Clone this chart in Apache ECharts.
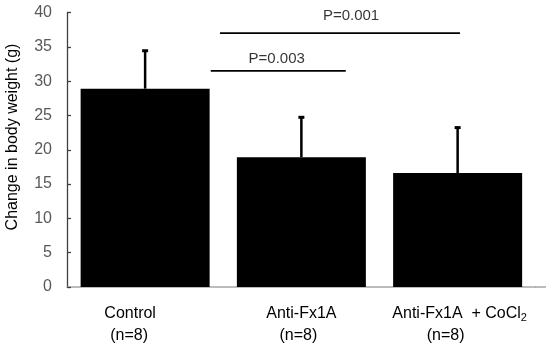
<!DOCTYPE html>
<html>
<head>
<meta charset="utf-8">
<script src="https://cdn.jsdelivr.net/npm/echarts@6/dist/echarts.min.js"></script>
<style>html,body{margin:0;padding:0;background:#fff}#c{width:550px;height:347px}</style>
</head>
<body>
<div id="c"></div>
<script>
var categories = ['Control', 'Anti-Fx1A', 'Anti-Fx1A + CoCl2'];
var groupSizes = ['(n=8)', '(n=8)', '(n=8)'];
var means = [28.9, 18.9, 16.6];
var errorTops = [34.5, 24.8, 23.3];
// significance brackets: [xStart, xEnd, y] in category units
var bracketA = [[0.42, 31.5], [1.284, 31.5]];
var bracketB = [[0.479, 37.0], [2.015, 37.0]];
var pLabels = [['P=0.003', 0.842, 33.3], ['P=0.001', 1.318, 39.5]];
var yTicks = [0, 40, 5];

var font = 'Liberation Sans, Arial, sans-serif';
var chart = echarts.init(document.getElementById('c'), null, {renderer: 'canvas'});

var lh = 22;
var option = {
  animation: false,
  backgroundColor: '#fff',
  grid: {left: 67, right: 14.25, top: 12.5, bottom: 60, containLabel: false, outerBoundsMode: 'none'},
  xAxis: [{
    type: 'category',
    data: categories,
    axisLine: {lineStyle: {color: '#a6a6a6', width: 1.5}},
    axisTick: {show: false},
    axisLabel: {
      interval: 0,
      margin: 16,
      color: '#000',
      fontFamily: font,
      fontSize: 16,
      lineHeight: lh,
      formatter: function (v, i) {
        if (i === 0) return '{c0a|Control}\n{c0b|' + groupSizes[0] + '}';
        if (i === 1) return '{c1a|Anti-Fx1A}\n{c1b|' + groupSizes[1] + '}';
        return '{c2a|Anti-Fx1A  + CoCl}{sub|2}\n{c2b|' + groupSizes[2] + '}';
      },
      rich: {
        c0a: {fontSize: 16, fontFamily: font, color: '#000', padding: [0, 30, 0, 0], lineHeight: lh},
        c0b: {fontSize: 16, fontFamily: font, color: '#000', padding: [0, 32, 0, 0], lineHeight: lh},
        c1a: {fontSize: 16, fontFamily: font, color: '#000', lineHeight: lh},
        c1b: {fontSize: 16, fontFamily: font, color: '#000', padding: [0, 6, 0, 0], lineHeight: lh},
        c2a: {fontSize: 16, fontFamily: font, color: '#000', padding: [0, 0, 0, 4], lineHeight: lh},
        sub: {fontSize: 11, fontFamily: font, color: '#000', padding: [8, 0, 0, 0], lineHeight: lh},
        c2b: {fontSize: 16, fontFamily: font, color: '#000', padding: [0, 24, 0, 0], lineHeight: lh}
      }
    }
  }, {
    type: 'value',
    min: -0.5,
    max: 2.5,
    show: false
  }],
  yAxis: {
    type: 'value',
    min: yTicks[0],
    max: yTicks[1],
    interval: yTicks[2],
    splitLine: {show: false},
    axisLine: {show: true, onZero: false, lineStyle: {color: '#404040', width: 1.3}},
    axisTick: {show: true, inside: true, length: 4, lineStyle: {color: '#404040', width: 1.3}},
    axisLabel: {color: '#595959', fontFamily: font, fontSize: 16, margin: 15}
  },
  graphic: [{
    type: 'text',
    x: 13,
    y: 137,
    rotation: Math.PI / 2,
    style: {
      text: 'Change in body weight (g)',
      fill: '#000',
      font: '16px ' + font,
      align: 'center',
      verticalAlign: 'middle'
    }
  }, {
    type: 'line',
    shape: {x1: 535, y1: 287, x2: 546, y2: 287},
    style: {stroke: '#a6a6a6', lineWidth: 1.5}
  }],
  series: [{
    type: 'bar',
    data: means,
    barWidth: 129,
    itemStyle: {color: '#000'},
    z: 2
  }, {
    type: 'custom',
    data: means.map(function (m, i) { return [i, m, errorTops[i]]; }),
    renderItem: function (params, api) {
      var base = api.coord([api.value(0), api.value(1)]);
      var top = api.coord([api.value(0), api.value(2)]);
      return {
        type: 'group',
        children: [{
          type: 'line',
          shape: {x1: base[0], y1: base[1], x2: top[0], y2: top[1] + 1},
          style: {stroke: '#000', lineWidth: 2.5}
        }, {
          type: 'rect',
          shape: {x: top[0] - 3, y: top[1] - 1, width: 6, height: 3},
          style: {fill: '#000'}
        }]
      };
    },
    z: 3
  }, {
    type: 'line',
    xAxisIndex: 1,
    data: bracketA,
    symbol: 'none',
    lineStyle: {color: '#000', width: 1.6},
    z: 4
  }, {
    type: 'line',
    xAxisIndex: 1,
    data: bracketB,
    symbol: 'none',
    lineStyle: {color: '#000', width: 1.6},
    z: 4
  }, {
    type: 'scatter',
    xAxisIndex: 1,
    symbolSize: 0,
    data: pLabels.map(function (p) { return {name: p[0], value: [p[1], p[2]]}; }),
    label: {
      show: true,
      position: 'inside',
      formatter: function (p) { return p.name; },
      color: '#000',
      fontFamily: font,
      fontSize: 15
    },
    z: 5
  }]
};
chart.setOption(option);
</script>
</body>
</html>
